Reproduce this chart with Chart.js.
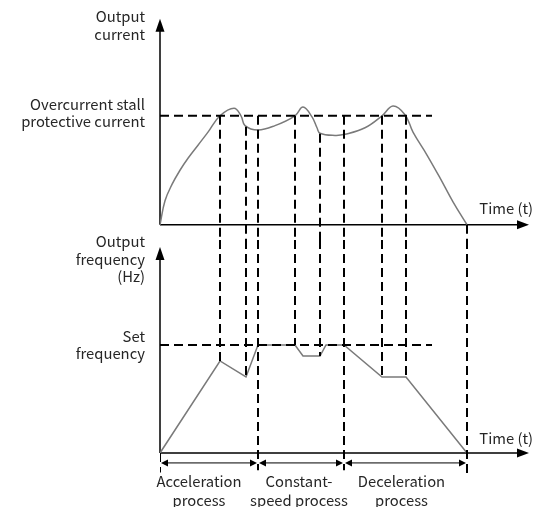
<!DOCTYPE html>
<html>
<head>
<meta charset="utf-8">
<script src="https://cdn.jsdelivr.net/npm/chart.js@4.4.1/dist/chart.umd.min.js"></script>
<style>
  html, body { margin: 0; padding: 0; background: #fff; }
  #chart { display: block; }
</style>
</head>
<body>
<canvas id="chart" width="536" height="507"></canvas>
<script>
// Output current (stall protective current = 100)
const currentTime = [0, 0.5, 1.2, 2.0, 2.8, 3.8, 4.8, 6.0, 7.4, 8.1, 8.5, 9.8, 11.5, 13.5, 14.3, 15.2, 15.7, 16.0, 17.5, 18.5, 20.5, 22.2, 23.3, 24.5, 25.3, 26.7, 28.0, 29.3, 30.7];
const currentValues = [0, 22, 37, 50, 61, 73, 85, 100, 107, 100, 91, 87, 91, 100, 108, 99, 89, 84, 82, 83, 89, 100, 109, 101, 85, 64, 43, 21, 0];

// Output frequency (set frequency = 50 Hz)
const freqTime = [0, 6.0, 8.6, 9.8, 13.5, 14.3, 16.0, 16.6, 18.4, 22.2, 24.6, 30.7];
const freqValues = [0, 42.6, 35.2, 50, 50, 44.9, 44.9, 50, 50, 35.2, 35.2, 0];

const stallCurrent = 100;
const setFrequency = 50;
const referenceEnd = 27.2;

// vertical guides: time, start on the current plot, end on the frequency plot
const guideTime = [6.0, 8.6, 9.8, 13.5, 16.0, 18.4, 22.2, 24.6, 30.7];
const guideCurrentFrom = [100, 90, 100, 100, 83.5, 100, 100, 100, 0];
const guideFreqTo = [42.6, 35.2, -8, 50, 44.9, -8, 35.2, 35.2, -10];

const phaseBounds = [0, 9.8, 18.4, 30.7];
const phaseLabels = [['Acceleration', 'process'], ['Constant-', 'speed process'], ['Deceleration', 'process']];

// layout
const CUR_MIN = -14, CUR_MAX = 192.5;
const FREQ_MIN = -12.5, FREQ_MAX = 98.6;
const CUR_AXIS_TOP = 189, FREQ_AXIS_TOP = 95.4, TIME_AXIS_END = 36.9;
const DIM_LEVEL = -4.6;
const phaseLabelShift = [-1.0, -0.2, -0.4];
const FONT = '14.8px "Noto Sans CJK SC", "Noto Sans", sans-serif';
const TEXT = '#262626';

const dashed = { borderColor: '#000', borderWidth: 2, borderDash: [9, 5], pointRadius: 0, fill: false };

const toPoints = (xs, ys) => xs.map((t, i) => ({ x: t, y: ys[i] }));

const datasets = [
    Object.assign({ data: [{ x: 0, y: stallCurrent }, { x: referenceEnd, y: stallCurrent }], yAxisID: 'yCur' }, dashed),
    Object.assign({ data: [{ x: 0, y: setFrequency }, { x: referenceEnd, y: setFrequency }], yAxisID: 'yFreq' }, dashed),
    Object.assign({ data: [{ x: 0, y: 0 }, { x: 0, y: -9 }], yAxisID: 'yFreq' }, dashed)
];

guideTime.forEach((t, i) => {
    datasets.push(Object.assign({ data: [{ x: t, y: guideCurrentFrom[i] }, { x: t, y: CUR_MIN }], yAxisID: 'yCur' }, dashed));
    datasets.push(Object.assign({ data: [{ x: t, y: FREQ_MAX }, { x: t, y: guideFreqTo[i] }], yAxisID: 'yFreq' }, dashed));
});

datasets.push({
    data: toPoints(currentTime, currentValues),
    yAxisID: 'yCur',
    borderColor: '#7a7a7a',
    borderWidth: 1.5,
    pointRadius: 0,
    tension: 0.4
});
datasets.push({
    data: toPoints(freqTime, freqValues),
    yAxisID: 'yFreq',
    borderColor: '#7a7a7a',
    borderWidth: 1.5,
    pointRadius: 0,
    tension: 0
});

function arrowHead(ctx, x, y, dir, len, half) {
    ctx.beginPath();
    if (dir === 'up') {
        ctx.moveTo(x, y); ctx.lineTo(x - half, y + len); ctx.lineTo(x + half, y + len);
    } else if (dir === 'right') {
        ctx.moveTo(x, y); ctx.lineTo(x - len, y - half); ctx.lineTo(x - len, y + half);
    } else {
        ctx.moveTo(x, y); ctx.lineTo(x + len, y - half); ctx.lineTo(x + len, y + half);
    }
    ctx.closePath();
    ctx.fill();
}

function textLines(ctx, lines, x, yCenter, spacing) {
    const start = yCenter - (lines.length - 1) * spacing / 2;
    lines.forEach((l, i) => ctx.fillText(l, x, start + i * spacing));
}

const diagramPlugin = {
    id: 'diagram',
    beforeDatasetsDraw(chart) {
        const { ctx, scales: { x, yCur, yFreq } } = chart;
        const x0 = x.getPixelForValue(0);
        const xEnd = x.getPixelForValue(TIME_AXIS_END);
        ctx.save();
        ctx.strokeStyle = '#000';
        ctx.fillStyle = '#000';
        ctx.lineWidth = 1.5;
        [[yCur, CUR_AXIS_TOP], [yFreq, FREQ_AXIS_TOP]].forEach(([s, top]) => {
            const y0 = s.getPixelForValue(0);
            const yTop = s.getPixelForValue(top);
            ctx.beginPath();
            ctx.moveTo(x0, y0); ctx.lineTo(x0, yTop + 8);
            ctx.moveTo(x0, y0); ctx.lineTo(xEnd - 8, y0);
            ctx.stroke();
            arrowHead(ctx, x0, yTop, 'up', 13, 4.5);
            arrowHead(ctx, xEnd, y0, 'right', 12, 4.5);
        });
        // phase dimension arrows
        const yd = yFreq.getPixelForValue(DIM_LEVEL);
        ctx.lineWidth = 1;
        for (let i = 0; i < phaseBounds.length - 1; i++) {
            const a = x.getPixelForValue(phaseBounds[i]) + 1;
            const b = x.getPixelForValue(phaseBounds[i + 1]) - 1;
            ctx.beginPath();
            ctx.moveTo(a + 4, yd); ctx.lineTo(b - 4, yd);
            ctx.stroke();
            arrowHead(ctx, a, yd, 'left', 7, 3.5);
            arrowHead(ctx, b, yd, 'right', 7, 3.5);
        }
        ctx.restore();
    },
    afterDraw(chart) {
        const { ctx, scales: { x, yCur, yFreq } } = chart;
        const xl = x.getPixelForValue(0) - 15;
        ctx.save();
        ctx.font = FONT;
        ctx.fillStyle = TEXT;
        ctx.textBaseline = 'middle';
        ctx.textAlign = 'right';
        textLines(ctx, ['Output', 'current'], xl, yCur.getPixelForValue(CUR_AXIS_TOP) + 7, 18);
        textLines(ctx, ['Overcurrent stall', 'protective current'], xl, yCur.getPixelForValue(stallCurrent) - 2.5, 17);
        textLines(ctx, ['Output', 'frequency', '(Hz)'], xl, yFreq.getPixelForValue(FREQ_AXIS_TOP) + 12, 17.5);
        textLines(ctx, ['Set', 'frequency'], xl, yFreq.getPixelForValue(setFrequency) - 0.5, 17);
        const xr = x.getPixelForValue(TIME_AXIS_END) + 4;
        ctx.fillText('Time (t)', xr, yCur.getPixelForValue(0) - 16);
        ctx.fillText('Time (t)', xr, yFreq.getPixelForValue(0) - 15);
        ctx.textAlign = 'center';
        const yLab = yFreq.getPixelForValue(DIM_LEVEL) + 19;
        phaseLabels.forEach((lines, i) => {
            const c = x.getPixelForValue((phaseBounds[i] + phaseBounds[i + 1]) / 2 + phaseLabelShift[i]);
            textLines(ctx, lines, c, yLab + 9, 19);
        });
        ctx.restore();
    }
};

new Chart(document.getElementById('chart'), {
    type: 'line',
    data: { datasets },
    options: {
        responsive: false,
        animation: false,
        layout: { padding: { left: 160, right: 6, top: 15, bottom: 27 } },
        plugins: { legend: { display: false }, tooltip: { enabled: false } },
        scales: {
            x: { type: 'linear', min: 0, max: 37, display: false },
            yCur: { type: 'linear', position: 'left', stack: 'panels', stackWeight: 225, weight: 2, min: CUR_MIN, max: CUR_MAX, display: false },
            yFreq: { type: 'linear', position: 'left', stack: 'panels', stackWeight: 240, weight: 1, min: FREQ_MIN, max: FREQ_MAX, display: false }
        }
    },
    plugins: [diagramPlugin]
});
</script>
</body>
</html>
